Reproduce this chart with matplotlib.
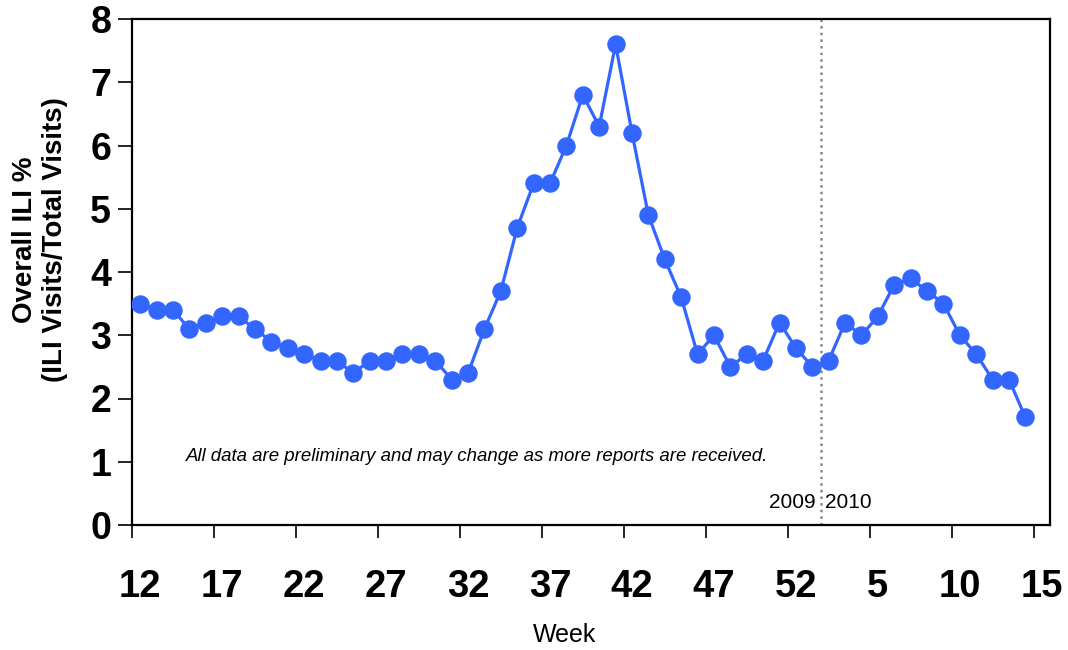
import matplotlib
matplotlib.use("Agg")
import matplotlib.pyplot as plt

plt.rcParams['font.family'] = ['Liberation Sans', 'DejaVu Sans']

# weeks 12-53 of 2009, 1-14 of 2010 (last slot has no data yet)
weeks = list(range(12, 54)) + list(range(1, 15))
ili = [3.5, 3.4, 3.4, 3.1, 3.2, 3.3, 3.3, 3.1, 2.9, 2.8,
       2.7, 2.6, 2.6, 2.4, 2.6, 2.6, 2.7, 2.7, 2.6, 2.3,
       2.4, 3.1, 3.7, 4.7, 5.4, 5.4, 6.0, 6.8, 6.3, 7.6,
       6.2, 4.9, 4.2, 3.6, 2.7, 3.0, 2.5, 2.7, 2.6, 3.2,
       2.8, 2.5, 2.6, 3.2, 3.0, 3.3, 3.8, 3.9, 3.7, 3.5,
       3.0, 2.7, 2.3, 2.3, 1.7]
tick_labels = ['12', '17', '22', '27', '32', '37', '42', '47', '52', '5', '10', '15']
year_break = 42  # slot where 2010 starts

fig = plt.figure(figsize=(10.68, 6.5), dpi=100)
ax = fig.add_axes([132/1068, 1 - 525/650, (1050 - 132)/1068, (525 - 19)/650])

xpos = [i + 0.5 for i in range(len(ili))]
ax.plot(xpos, ili, '-o', color='#3366FF', lw=2.3, ms=12.3, zorder=3)

ax.axvline(year_break, color='#888888', ls=':', lw=1.8, zorder=2)

ax.set_xlim(0, len(weeks))
ax.set_ylim(0, 8)

ax.set_xticks(range(0, len(weeks), 5))
ax.set_xticklabels([])
ax.set_xticks([i + 0.5 for i in range(0, len(weeks), 5)], minor=True)
ax.set_xticklabels(tick_labels, minor=True, fontsize=27.5, fontweight='bold')
ax.tick_params(axis='x', which='major', length=9, width=1.2, direction='out')
ax.tick_params(axis='x', which='minor', length=0, pad=32)

ax.set_yticks(range(0, 9))
ax.set_yticklabels([str(v) for v in range(0, 9)], fontsize=27, fontweight='bold')
ax.tick_params(axis='y', length=10, width=1.2, pad=5)

for s in ax.spines.values():
    s.set_linewidth(1.6)
    s.set_color('black')

ax.text(21.05, 1.09, 'All data are preliminary and may change as more reports are received.',
        fontsize=13.4, style='italic', ha='center', va='center')
ax.text(year_break - 0.3, 0.36, '2009', fontsize=15, ha='right', va='center')
ax.text(year_break + 0.3, 0.36, '2010', fontsize=15, ha='left', va='center')

fig.text(40/1068, 1 - 240/650, 'Overall ILI %\n(ILI Visits/Total Visits)', rotation=90,
         ha='center', va='center', fontsize=20, fontweight='bold', multialignment='center',
         linespacing=1.15)
fig.text(565/1068, 1 - 635/650, 'Week', ha='center', va='center', fontsize=18)

fig.savefig('out.png', dpi=100)
